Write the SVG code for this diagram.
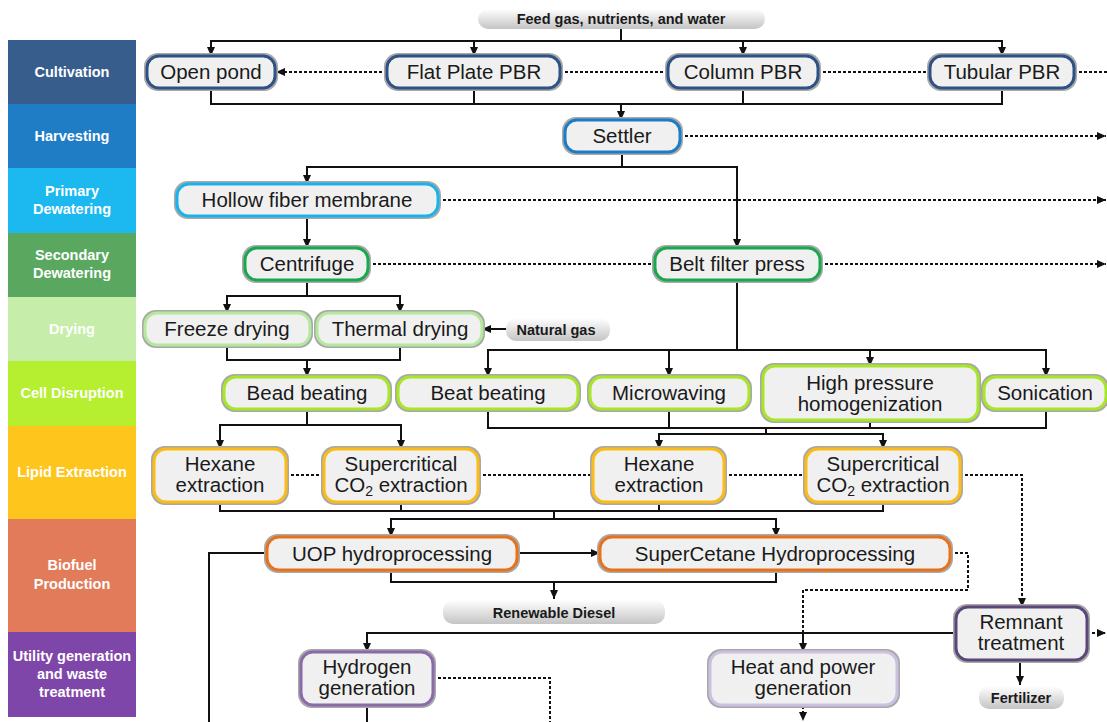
<svg xmlns="http://www.w3.org/2000/svg" width="1107" height="722" viewBox="0 0 1107 722">
<style>
text{font-family:"Liberation Sans",Arial,sans-serif}
.bt{fill:#fff;font-weight:bold;font-size:14.5px;text-anchor:middle}
.t{fill:#1a1a1a;font-size:20.5px;text-anchor:middle}
.pt{fill:#1a1a1a;font-weight:bold;font-size:14.5px;text-anchor:middle}
.o{fill:#a8a8a8}
.b{fill:#f0f0f0;stroke-width:3}
.pill{fill:url(#pg)}
.s{fill:none;stroke:#111;stroke-width:2}
.d{fill:none;stroke:#111;stroke-width:2;stroke-dasharray:3 2}
.a{marker-end:url(#ah)}
.cul{stroke:#2e5186}.har{stroke:#1b7cc8}.pri{stroke:#1ab4ec}.sec{stroke:#18a94e}
.dry{stroke:#b4e89c}.cel{stroke:#a8e62a}.lip{stroke:#fbbc18}.bio{stroke:#e8721a}
.hyd{stroke:#8a6aaa}.hp{stroke:#cbc0e0}.rem{stroke:#5b4878}
</style>
<defs>
<linearGradient id="pg" x1="0" y1="0" x2="0" y2="1">
<stop offset="0" stop-color="#ffffff"/><stop offset="1" stop-color="#c4c4c4"/>
</linearGradient>
<marker id="ah" markerWidth="9" markerHeight="8" refX="9" refY="4" orient="auto" markerUnits="userSpaceOnUse">
<path d="M0,0 L9,4 L0,8 z" fill="#111"/>
</marker>
</defs>
<rect width="1107" height="722" fill="#fff"/>
<g id="bands">
<rect x="8" y="40" width="128" height="64" fill="#375d8d"/>
<rect x="8" y="104" width="128" height="64" fill="#1f7dc6"/>
<rect x="8" y="168" width="128" height="65" fill="#1cb8f0"/>
<rect x="8" y="233" width="128" height="64" fill="#5aa75f"/>
<rect x="8" y="297" width="128" height="64" fill="#c6eeaa"/>
<rect x="8" y="361" width="128" height="65" fill="#b5ef30"/>
<rect x="8" y="426" width="128" height="93" fill="#fec51c"/>
<rect x="8" y="519" width="128" height="113" fill="#e27b59"/>
<rect x="8" y="632" width="128" height="85" fill="#7f46a9"/>
<text class="bt" x="72" y="77">Cultivation</text>
<text class="bt" x="72" y="141">Harvesting</text>
<text class="bt" x="72" y="196">Primary</text>
<text class="bt" x="72" y="214">Dewatering</text>
<text class="bt" x="72" y="260">Secondary</text>
<text class="bt" x="72" y="278">Dewatering</text>
<text class="bt" x="72" y="334">Drying</text>
<text class="bt" x="72" y="398">Cell Disruption</text>
<text class="bt" x="72" y="477">Lipid Extraction</text>
<text class="bt" x="72" y="570">Biofuel</text>
<text class="bt" x="72" y="589">Production</text>
<text class="bt" x="72" y="661">Utility generation</text>
<text class="bt" x="72" y="679">and waste</text>
<text class="bt" x="72" y="697">treatment</text>
</g>
<g id="connectors">
<path class="s" d="M621,29 V41"/>
<path class="s a" d="M621,41 H211 V56"/>
<path class="s a" d="M621,41 H1002 V56"/>
<path class="s a" d="M474,41 V56"/>
<path class="s a" d="M743,41 V56"/>
<path class="s" d="M211,88 V104 H1002 V88 M474,88 V104 M743,88 V104"/>
<path class="s a" d="M621,104 V120"/>
<path class="s a" d="M622,152 V167 H307 V184"/>
<path class="s a" d="M622,167 H737 V248"/>
<path class="s a" d="M307,216 V248"/>
<path class="s a" d="M307,280 V296 H227 V313"/>
<path class="s a" d="M307,296 H400 V313"/>
<path class="s" d="M227,345 V360 H400 V345"/>
<path class="s a" d="M307,360 V377"/>
<path class="s a" d="M506,329 H482"/>
<path class="s" d="M737,280 V350"/>
<path class="s a" d="M737,350 H488 V377"/>
<path class="s a" d="M669,350 V377"/>
<path class="s a" d="M737,350 H1046 V377"/>
<path class="s a" d="M870,350 V366"/>
<path class="s" d="M307,409 V425"/>
<path class="s a" d="M307,425 H220 V449"/>
<path class="s a" d="M307,425 H401 V449"/>
<path class="s" d="M488,409 V428 H1046 V409 M669,409 V428 M870,420 V428 M766,428 V434"/>
<path class="s a" d="M766,434 H659 V449"/>
<path class="s a" d="M766,434 H883 V449"/>
<path class="s" d="M220,502 V511 H883 V502 M401,502 V511 M659,502 V511 M554,511 V519"/>
<path class="s a" d="M554,519 H391 V537"/>
<path class="s a" d="M554,519 H776 V537"/>
<path class="s a" d="M517,553 H600"/>
<path class="s" d="M267,553 H209 V722"/>
<path class="s" d="M391,570 V582 H776 V570"/>
<path class="s a" d="M554,582 V599"/>
<path class="s a" d="M956,633 H367 V652"/>
<path class="s a" d="M803,633 V652"/>
<path class="s a" d="M1020,660 V685"/>
<path class="s" d="M367,705 V722"/>
<path class="d a" d="M387,72 H276"/>
<path class="d" d="M560,72 H668 M818,72 H930 M1074,72 H1107"/>
<path class="d a" d="M680,136 H1106"/>
<path class="d a" d="M438,200 H1106"/>
<path class="d" d="M368,264 H655"/>
<path class="d a" d="M820,264 H1106"/>
<path class="d" d="M286,475 H324 M478,475 H593 M724,475 H806"/>
<path class="d a" d="M960,475 H1022 V607"/>
<path class="d" d="M950,553 H968 V590 H803 V633"/>
<path class="d" d="M433,678 H550 V722"/>
<path class="d a" d="M803,706 V721"/>
<path class="d a" d="M1087,633 H1106"/>
</g>
<g id="feed"><rect class="pill" x="478" y="9" width="287" height="20" rx="10"/><text class="pt" x="621" y="24">Feed gas, nutrients, and water</text></g>
<g id="natural-gas"><rect class="pill" x="506" y="318" width="104" height="23" rx="10"/><text class="pt" x="556" y="335">Natural gas</text></g>
<g id="renewable-diesel"><rect class="pill" x="443" y="600" width="222" height="24" rx="10"/><text class="pt" x="554" y="618">Renewable Diesel</text></g>
<g id="fertilizer"><rect class="pill" x="979" y="686" width="85" height="23" rx="10"/><text class="pt" x="1021" y="703">Fertilizer</text></g>
<g id="open-pond"><rect class="o" x="144" y="53" width="134" height="38" rx="14"/><rect class="b cul" x="147" y="56" width="128" height="32" rx="12"/><text class="t" x="211" y="79">Open pond</text></g>
<g id="flat-plate-pbr"><rect class="o" x="384" y="53" width="179" height="38" rx="14"/><rect class="b cul" x="387" y="56" width="173" height="32" rx="12"/><text class="t" x="474" y="79">Flat Plate PBR</text></g>
<g id="column-pbr"><rect class="o" x="665" y="53" width="156" height="38" rx="14"/><rect class="b cul" x="668" y="56" width="150" height="32" rx="12"/><text class="t" x="743" y="79">Column PBR</text></g>
<g id="tubular-pbr"><rect class="o" x="927" y="53" width="150" height="38" rx="14"/><rect class="b cul" x="930" y="56" width="144" height="32" rx="12"/><text class="t" x="1002" y="79">Tubular PBR</text></g>
<g id="settler"><rect class="o" x="562" y="117" width="121" height="38" rx="14"/><rect class="b har" x="565" y="120" width="115" height="32" rx="12"/><text class="t" x="622" y="143">Settler</text></g>
<g id="hollow-fiber"><rect class="o" x="174" y="181" width="267" height="38" rx="14"/><rect class="b pri" x="177" y="184" width="261" height="32" rx="12"/><text class="t" x="307" y="207">Hollow fiber membrane</text></g>
<g id="centrifuge"><rect class="o" x="242" y="245" width="129" height="38" rx="14"/><rect class="b sec" x="245" y="248" width="123" height="32" rx="12"/><text class="t" x="307" y="271">Centrifuge</text></g>
<g id="belt-filter"><rect class="o" x="652" y="245" width="171" height="38" rx="14"/><rect class="b sec" x="655" y="248" width="165" height="32" rx="12"/><text class="t" x="737" y="271">Belt filter press</text></g>
<g id="freeze-drying"><rect class="o" x="142" y="310" width="171" height="38" rx="14"/><rect class="b dry" x="145" y="313" width="165" height="32" rx="12"/><text class="t" x="227" y="336">Freeze drying</text></g>
<g id="thermal-drying"><rect class="o" x="314" y="310" width="171" height="38" rx="14"/><rect class="b dry" x="317" y="313" width="165" height="32" rx="12"/><text class="t" x="400" y="336">Thermal drying</text></g>
<g id="bead-beating"><rect class="o" x="221" y="374" width="171" height="38" rx="14"/><rect class="b cel" x="224" y="377" width="165" height="32" rx="12"/><text class="t" x="307" y="400">Bead beating</text></g>
<g id="beat-beating"><rect class="o" x="395" y="374" width="186" height="38" rx="14"/><rect class="b cel" x="398" y="377" width="180" height="32" rx="12"/><text class="t" x="488" y="400">Beat beating</text></g>
<g id="microwaving"><rect class="o" x="587" y="374" width="165" height="38" rx="14"/><rect class="b cel" x="590" y="377" width="159" height="32" rx="12"/><text class="t" x="669" y="400">Microwaving</text></g>
<g id="hph"><rect class="o" x="760" y="363" width="221" height="60" rx="14"/><rect class="b cel" x="763" y="366" width="215" height="54" rx="12"/><text class="t" x="870" y="390">High pressure</text><text class="t" x="870" y="411">homogenization</text></g>
<g id="sonication"><rect class="o" x="981" y="374" width="128" height="38" rx="14"/><rect class="b cel" x="984" y="377" width="122" height="32" rx="12"/><text class="t" x="1045" y="400">Sonication</text></g>
<g id="hexane-1"><rect class="o" x="151" y="446" width="138" height="59" rx="14"/><rect class="b lip" x="154" y="449" width="132" height="53" rx="12"/><text class="t" x="220" y="471">Hexane</text><text class="t" x="220" y="492">extraction</text></g>
<g id="sc-co2-1"><rect class="o" x="321" y="446" width="160" height="59" rx="14"/><rect class="b lip" x="324" y="449" width="154" height="53" rx="12"/><text class="t" x="401" y="471">Supercritical</text><text class="t" x="401" y="492">CO<tspan font-size="14" dy="4">2</tspan><tspan dy="-4"> extraction</tspan></text></g>
<g id="hexane-2"><rect class="o" x="590" y="446" width="137" height="59" rx="14"/><rect class="b lip" x="593" y="449" width="131" height="53" rx="12"/><text class="t" x="659" y="471">Hexane</text><text class="t" x="659" y="492">extraction</text></g>
<g id="sc-co2-2"><rect class="o" x="803" y="446" width="160" height="59" rx="14"/><rect class="b lip" x="806" y="449" width="154" height="53" rx="12"/><text class="t" x="883" y="471">Supercritical</text><text class="t" x="883" y="492">CO<tspan font-size="14" dy="4">2</tspan><tspan dy="-4"> extraction</tspan></text></g>
<g id="uop"><rect class="o" x="264" y="534" width="256" height="39" rx="14"/><rect class="b bio" x="267" y="537" width="250" height="33" rx="12"/><text class="t" x="392" y="561">UOP hydroprocessing</text></g>
<g id="supercetane"><rect class="o" x="597" y="534" width="356" height="39" rx="14"/><rect class="b bio" x="600" y="537" width="350" height="33" rx="12"/><text class="t" x="775" y="561">SuperCetane Hydroprocessing</text></g>
<g id="remnant"><rect class="o" x="953" y="604" width="137" height="59" rx="14"/><rect class="b rem" x="956" y="607" width="131" height="53" rx="12"/><text class="t" x="1021" y="629">Remnant</text><text class="t" x="1021" y="650">treatment</text></g>
<g id="hydrogen"><rect class="o" x="298" y="649" width="138" height="59" rx="14"/><rect class="b hyd" x="301" y="652" width="132" height="53" rx="12"/><text class="t" x="367" y="674">Hydrogen</text><text class="t" x="367" y="695">generation</text></g>
<g id="heat-power"><rect class="o" x="707" y="649" width="193" height="59" rx="14"/><rect class="b hp" x="710" y="652" width="187" height="53" rx="12"/><text class="t" x="803" y="674">Heat and power</text><text class="t" x="803" y="695">generation</text></g>
</svg>
